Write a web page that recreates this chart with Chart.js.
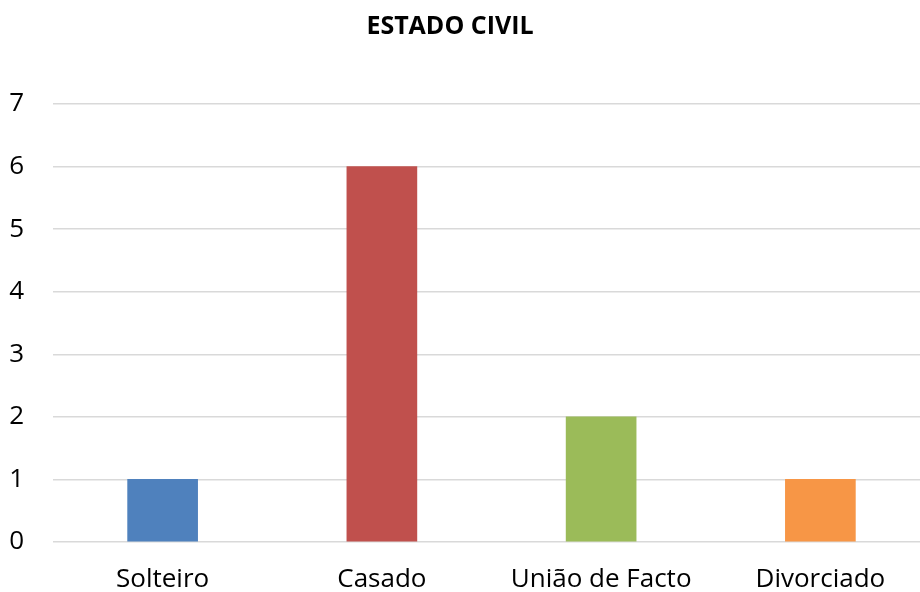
<!DOCTYPE html>
<html>
<head>
<meta charset="utf-8">
<script src="https://cdn.jsdelivr.net/npm/chart.js@4/dist/chart.umd.min.js"></script>
<style>
  html, body { margin: 0; padding: 0; background: #fff; overflow: hidden; }
  #wrap { width: 920px; height: 592px; overflow: hidden; }
  #estadoChart { display: block; margin-left: -30px; }
</style>
</head>
<body>
<div id="wrap"><canvas id="estadoChart" width="960" height="592"></canvas></div>
<script>
  // estado civil data
  var categories = ["Solteiro", "Casado", "União de Facto", "Divorciado"];
  var counts = [1, 6, 2, 1];
  var barColors = ["#4F81BD", "#C0504D", "#9BBB59", "#F79646"];
  var yTicks = [0, 1, 2, 3, 4, 5, 6, 7];

  var fontFamily = "'Open Sans', sans-serif";

  new Chart("estadoChart", {
    type: "bar",
    data: {
      labels: categories,
      datasets: [{
        data: counts,
        backgroundColor: barColors,
        barThickness: 70
      }]
    },
    options: {
      responsive: false,
      animation: false,
      layout: { padding: { left: 0, right: 0, top: 0, bottom: 0 } },
      plugins: {
        legend: { display: false },
        tooltip: { enabled: false },
        title: {
          display: true,
          text: "ESTADO CIVIL",
          color: "#000",
          font: { family: fontFamily, size: 25, weight: "bold" },
          padding: { top: 12, bottom: 62 }
        }
      },
      scales: {
        x: {
          grid: { display: false },
          border: { display: false },
          ticks: {
            color: "#000",
            font: { family: fontFamily, size: 26 },
            padding: 14,
            maxRotation: 0
          },
          afterFit: function(scale) { scale.height = 50; }
        },
        y: {
          min: 0,
          max: 7,
          afterBuildTicks: function(scale) {
            scale.ticks = yTicks.map(function(v) { return { value: v }; });
          },
          grid: { color: "#D9D9D9", lineWidth: 1.5, drawTicks: false },
          border: { display: false },
          ticks: {
            color: "#000",
            font: { family: fontFamily, size: 26 },
            padding: 29
          },
          afterFit: function(scale) { scale.width = 83; }
        }
      }
    }
  });
</script>
</body>
</html>
